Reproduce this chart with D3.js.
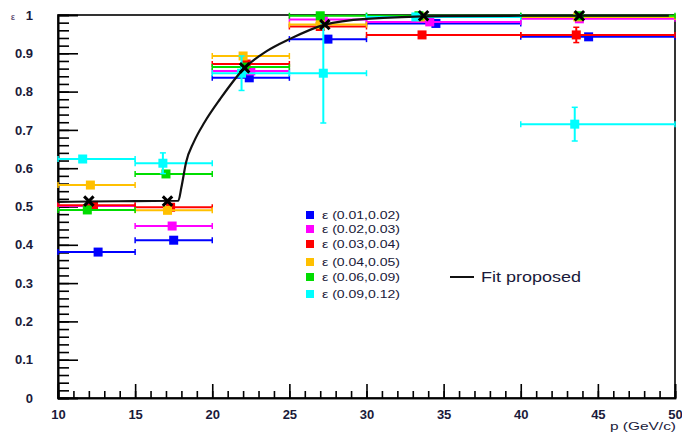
<!DOCTYPE html>
<html><head><meta charset="utf-8">
<script src="https://cdn.jsdelivr.net/npm/d3@7"></script>
<style>body{margin:0;background:#fff}svg{display:block}text{font-family:"Liberation Sans",Arial,sans-serif}</style>
</head><body>
<svg id="c" width="682" height="432"></svg>
<script>
// ---- data ----
const binLo = [10, 15, 20, 25, 30, 40];
const binHi = [15, 20, 25, 30, 40, 50];
const seriesNames = ["ε (0.01,0.02)", "ε (0.02,0.03)", "ε (0.03,0.04)", "ε (0.04,0.05)", "ε (0.06,0.09)", "ε (0.09,0.12)"];
const seriesColors = ["#0000ff", "#ff00ff", "#ff0000", "#ffc000", "#00dd00", "#00ffff"];
const seriesP = [
  [12.6, 17.5, 22.4, 27.5, 34.5, 44.4],
  [12.2, 17.4, 22.5, 27.2, 34.1, 43.8],
  [12.3, 17.3, 22.2, 27.0, 33.6, 43.6],
  [12.1, 17.1, 22.0, 27.0, 33.5, 43.7],
  [11.9, 17.0, 22.1, 27.0, 33.4, 43.8],
  [11.6, 16.8, 21.9, 27.2, 33.2, 43.5]
];
const seriesEff = [
  [0.381, 0.412, 0.836, 0.937, 0.978, 0.943],
  [0.501, 0.449, 0.854, 0.988, 0.982, 0.990],
  [0.503, 0.498, 0.872, 0.970, 0.948, 0.948],
  [0.556, 0.490, 0.893, 0.975, 0.995, 0.995],
  [0.491, 0.585, 0.864, 0.998, 0.998, 0.998],
  [0.624, 0.613, 0.848, 0.848, 0.995, 0.715]
];
const seriesErr = [
  [0.005, 0.005, 0.005, 0.005, 0.004, 0.005],
  [0.005, 0.005, 0.005, 0.004, 0.004, 0.005],
  [0.005, 0.005, 0.005, 0.005, 0.005, 0.020],
  [0.008, 0.008, 0.008, 0.004, 0.003, 0.003],
  [0.008, 0.008, 0.008, 0.003, 0.002, 0.002],
  [0.008, 0.027, 0.045, 0.130, 0.005, 0.044]
];
const fitMarkP = [12.0, 17.1, 22.1, 27.3, 33.7, 43.8];
const fitMarkEff = [0.514, 0.514, 0.862, 0.975, 0.998, 0.998];
const fitP = [10, 12, 15, 17.8, 18.0, 18.3, 18.8, 19.5, 20.5, 22.1, 23.5, 25, 27.3, 30, 35, 40, 49.6];
const fitEff = [0.512, 0.513, 0.514, 0.515, 0.55, 0.615, 0.668, 0.72, 0.78, 0.862, 0.905, 0.937, 0.975, 0.99, 0.997, 0.998, 0.998];
const xTicks = [10, 15, 20, 25, 30, 35, 40, 45, 50];
const yTicks = [0, 0.1, 0.2, 0.3, 0.4, 0.5, 0.6, 0.7, 0.8, 0.9, 1];

// ---- chart ----
const svg = d3.select("#c");
const L = 58, R = 675, T = 15, B = 398;
const x = d3.scaleLinear().domain([10, 50]).range([L, R]);
const y = d3.scaleLinear().domain([0, 1]).range([B, T]);

// frame
svg.append("rect").attr("x", L).attr("y", T).attr("width", R - L).attr("height", B - T)
  .attr("fill", "none").attr("stroke", "#000").attr("stroke-width", 1.6);

// axes
const xMinor = d3.range(10, 50.01, 1);
const yMinor = d3.range(0, 1.001, 0.02);
const gx = svg.append("g").attr("transform", `translate(0,${B})`);
gx.call(d3.axisBottom(x).tickValues(xMinor).tickSize(-7).tickFormat(""));
const gx2 = svg.append("g").attr("transform", `translate(0,${B})`);
gx2.call(d3.axisBottom(x).tickValues(xTicks).tickSize(-14).tickPadding(20).tickFormat(d3.format("d")));
const gy = svg.append("g").attr("transform", `translate(${L},0)`);
gy.call(d3.axisLeft(y).tickValues(yMinor).tickSize(-11).tickFormat(""));
const gy2 = svg.append("g").attr("transform", `translate(${L},0)`);
gy2.call(d3.axisLeft(y).tickValues(yTicks).tickSize(-20).tickPadding(25).tickFormat(d => d === 0 ? "0" : d === 1 ? "1" : d3.format(".1f")(d)));
svg.selectAll(".domain").attr("stroke", "#000").attr("stroke-width", 1.6);
svg.selectAll(".tick line").attr("stroke", "#000").attr("stroke-width", 1.6);
svg.selectAll(".tick text").attr("font-size", 13).attr("font-weight", "bold").attr("fill", "#1a1a3a");
gx2.selectAll(".tick text").attr("dy", "0.05em");

// axis titles
svg.append("text").attr("x", 676).attr("y", 430).attr("text-anchor", "end")
  .attr("font-size", 11).attr("textLength", 66).attr("lengthAdjust", "spacingAndGlyphs")
  .attr("fill", "#1a1a3a").text("p (GeV/c)");
svg.append("text").attr("x", 13).attr("y", 20).attr("text-anchor", "middle")
  .attr("font-size", 9).attr("font-weight", "bold").attr("fill", "#6a5a7a").text("ε");

// series
seriesNames.forEach((name, s) => {
  const g = svg.append("g");
  const col = seriesColors[s];
  binLo.forEach((lo, i) => {
    const hi = binHi[i];
    const py = y(seriesEff[s][i]);
    const px = x(seriesP[s][i]);
    g.append("line").attr("x1", x(lo)).attr("x2", x(hi)).attr("y1", py).attr("y2", py)
      .attr("stroke", col).attr("stroke-width", 2);
    [lo, hi].forEach(e => g.append("line").attr("x1", x(e)).attr("x2", x(e))
      .attr("y1", py - 3).attr("y2", py + 3).attr("stroke", col).attr("stroke-width", 1.5));
    const e = seriesErr[s][i];
    const y1 = y(seriesEff[s][i] + e), y2 = y(seriesEff[s][i] - e);
    g.append("line").attr("x1", px).attr("x2", px).attr("y1", y1).attr("y2", y2)
      .attr("stroke", col).attr("stroke-width", 2);
    if (e > 0.012) {
      [y1, y2].forEach(yy => g.append("line").attr("x1", px - 3).attr("x2", px + 3)
        .attr("y1", yy).attr("y2", yy).attr("stroke", col).attr("stroke-width", 1.5));
    }
    g.append("rect").attr("x", px - 4.5).attr("y", py - 4.5).attr("width", 9).attr("height", 9).attr("fill", col);
  });
});

// fit curve
svg.append("path").datum(fitP.map((p, i) => [p, fitEff[i]]))
  .attr("d", d3.line().x(d => x(d[0])).y(d => y(d[1])).curve(d3.curveMonotoneX))
  .attr("fill", "none").attr("stroke", "#111").attr("stroke-width", 2.2);
fitMarkP.forEach((p, i) => {
  svg.append("path").attr("d", d3.symbol().type(d3.symbolTimes).size(60)())
    .attr("transform", `translate(${x(p)},${y(fitMarkEff[i])})`)
    .attr("fill", "none").attr("stroke", "#000").attr("stroke-width", 3);
});

// legend
const legY = [215, 229, 244, 262, 277, 294];
seriesNames.forEach((name, s) => {
  svg.append("rect").attr("x", 306).attr("y", legY[s] - 4).attr("width", 8).attr("height", 8).attr("fill", seriesColors[s]);
  svg.append("text").attr("x", 322).attr("y", legY[s] + 4).attr("font-size", 11)
    .attr("textLength", 78).attr("lengthAdjust", "spacingAndGlyphs").attr("fill", "#1a1a3a").text(name);
});
svg.append("line").attr("x1", 450).attr("x2", 474).attr("y1", 277).attr("y2", 277).attr("stroke", "#111").attr("stroke-width", 2);
svg.append("text").attr("x", 481).attr("y", 282).attr("font-size", 15).attr("textLength", 100)
  .attr("lengthAdjust", "spacingAndGlyphs").attr("fill", "#1a1a3a").text("Fit proposed");
</script>
</body></html>
